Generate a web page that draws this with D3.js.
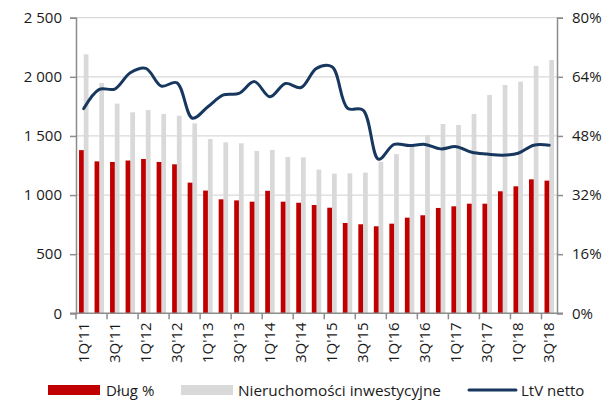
<!DOCTYPE html>
<html>
<head>
<meta charset="utf-8">
<script src="https://cdn.jsdelivr.net/npm/d3@7"></script>
<style>
  body { margin: 0; background: #fff; }
  text { font-family: "Open Sans", sans-serif; fill: #1a1a1a; }
</style>
</head>
<body>
<div id="container"></div>
<script>
// quarters 1Q'11 .. 3Q'18
const quarters = ["1Q'11","2Q'11","3Q'11","4Q'11","1Q'12","2Q'12","3Q'12","4Q'12",
  "1Q'13","2Q'13","3Q'13","4Q'13","1Q'14","2Q'14","3Q'14","4Q'14",
  "1Q'15","2Q'15","3Q'15","4Q'15","1Q'16","2Q'16","3Q'16","4Q'16",
  "1Q'17","2Q'17","3Q'17","4Q'17","1Q'18","2Q'18","3Q'18"];

const debt = [1380, 1285, 1280, 1292, 1305, 1280, 1260, 1105,
  1038, 964, 955, 944, 1036, 944, 935, 916,
  893, 764, 753, 736, 758, 809, 829, 891,
  905, 927, 927, 1032, 1074, 1133, 1122];

const properties = [2190, 1948, 1773, 1700, 1719, 1686, 1671, 1607,
  1474, 1446, 1438, 1373, 1381, 1322, 1319, 1215,
  1181, 1184, 1190, 1282, 1347, 1409, 1508, 1601,
  1593, 1686, 1846, 1931, 1959, 2092, 2142];

const ltv = [55.4, 60.6, 60.7, 65.1, 66.3, 61.5, 62.4, 52.8,
  55.9, 59.1, 59.5, 62.7, 58.6, 62.2, 61.1, 66.3,
  66.7, 55.5, 55.0, 41.7, 45.7, 45.4, 45.7, 44.5,
  45.1, 43.6, 43.1, 42.8, 43.3, 45.5, 45.5];

const leftTicks = [0, 500, 1000, 1500, 2000, 2500];
const rightTicks = [0, 16, 32, 48, 64, 80];

const w = 612;
const h = 401;
const m = { top: 17.7, right: 55, bottom: 87.7, left: 76 };

const svg = d3.select("#container")
  .append("svg")
  .attr("width", w)
  .attr("height", h);

const x0 = d3.scaleBand()
  .domain(d3.range(quarters.length))
  .range([m.left, w - m.right])
  .paddingInner(0.39)
  .paddingOuter(0.195);

const x1 = d3.scaleBand()
  .domain(["debt", "prop"])
  .range([0, x0.bandwidth()]);

const yL = d3.scaleLinear().domain([0, 2500]).range([h - m.bottom, m.top]);
const yR = d3.scaleLinear().domain([0, 80]).range([h - m.bottom, m.top]);

const axisColor = "#8c8c8c";

// gridlines
svg.append("g")
  .selectAll("line")
  .data(leftTicks.slice(1))
  .enter().append("line")
  .attr("x1", m.left)
  .attr("x2", w - m.right)
  .attr("y1", d => yL(d))
  .attr("y2", d => yL(d))
  .attr("stroke", "#d9d9d9")
  .attr("stroke-width", 1.3);

// bars
const groups = svg.append("g")
  .selectAll("g")
  .data(quarters)
  .enter().append("g")
  .attr("transform", (d, i) => `translate(${x0(i)},0)`);

groups.append("rect")
  .attr("x", x1("prop"))
  .attr("width", x1.bandwidth())
  .attr("y", (d, i) => yL(properties[i]))
  .attr("height", (d, i) => yL(0) - yL(properties[i]))
  .attr("fill", "#d9d9d9");

groups.append("rect")
  .attr("x", x1("debt"))
  .attr("width", x1.bandwidth())
  .attr("y", (d, i) => yL(debt[i]))
  .attr("height", (d, i) => yL(0) - yL(debt[i]))
  .attr("fill", "#c00000");

// LtV line
const line = d3.line()
  .x((d, i) => x0(i) + x0.bandwidth() / 2)
  .y(d => yR(d))
  .curve(d3.curveCatmullRom.alpha(0.5));

svg.append("path")
  .datum(ltv)
  .attr("d", line)
  .attr("fill", "none")
  .attr("stroke", "#17375e")
  .attr("stroke-width", 3)
  .attr("stroke-linecap", "round");

// left axis
const leftAxis = d3.axisLeft(yL)
  .tickValues(leftTicks)
  .tickSize(6)
  .tickPadding(8)
  .tickFormat(d => d3.format(",")(d).replace(",", "\u00a0"));

const gl = svg.append("g")
  .attr("transform", `translate(${m.left},0)`)
  .call(leftAxis);

// right axis
const rightAxis = d3.axisRight(yR)
  .tickValues(rightTicks)
  .tickSize(6)
  .tickPadding(9)
  .tickFormat(d => d + "%");

const gr = svg.append("g")
  .attr("transform", `translate(${w - m.right},0)`)
  .call(rightAxis);

[gl, gr].forEach(g => {
  g.select(".domain").attr("stroke", axisColor).attr("stroke-width", 1.5);
  g.selectAll(".tick line").attr("stroke", axisColor).attr("stroke-width", 1.5);
  g.selectAll(".tick text")
    .style("font-family", "'Open Sans', sans-serif")
    .style("font-size", "15px")
    .attr("fill", "#1a1a1a");
});

// bottom axis
const step = x0.step();
const boundary = i => x0(i) - step * x0.paddingInner() / 2;

const gx = svg.append("g");
gx.append("line")
  .attr("x1", m.left - 6)
  .attr("x2", w - m.right + 6)
  .attr("y1", yL(0))
  .attr("y2", yL(0))
  .attr("stroke", axisColor)
  .attr("stroke-width", 1.5);

const tickIdx = d3.range(0, quarters.length + 1, 2);
gx.selectAll(".xtick")
  .data(tickIdx)
  .enter().append("line")
  .attr("class", "xtick")
  .attr("x1", d => d < quarters.length ? boundary(d) : w - m.right)
  .attr("x2", d => d < quarters.length ? boundary(d) : w - m.right)
  .attr("y1", yL(0))
  .attr("y2", yL(0) + 6)
  .attr("stroke", axisColor)
  .attr("stroke-width", 1.5);

gx.selectAll(".xlabel")
  .data(quarters.filter((d, i) => i % 2 === 0))
  .enter().append("text")
  .attr("class", "xlabel")
  .attr("transform", (d, i) => `translate(${x0(i * 2) + x0.bandwidth() / 2 + 5},${yL(0) + 9}) rotate(-90)`)
  .attr("text-anchor", "end")
  .style("font-size", "15px")
  .text(d => d);

// legend
const legend = svg.append("g").attr("transform", "translate(0,390)");
legend.append("rect").attr("x", 48).attr("y", -5).attr("width", 52).attr("height", 10).attr("fill", "#c00000");
legend.append("text").attr("x", 106).attr("y", 5.5).style("font-size", "15px").text("Dług %");
legend.append("rect").attr("x", 181).attr("y", -5).attr("width", 52).attr("height", 10).attr("fill", "#d9d9d9");
legend.append("text").attr("x", 238).attr("y", 5.5).style("font-size", "15px")
  .attr("textLength", 203).attr("lengthAdjust", "spacingAndGlyphs")
  .text("Nieruchomości inwestycyjne");
legend.append("line").attr("x1", 469).attr("x2", 516).attr("y1", 0).attr("y2", 0)
  .attr("stroke", "#17375e").attr("stroke-width", 3).attr("stroke-linecap", "round");
legend.append("text").attr("x", 521).attr("y", 5.5).style("font-size", "15px").text("LtV netto");
</script>
</body>
</html>
